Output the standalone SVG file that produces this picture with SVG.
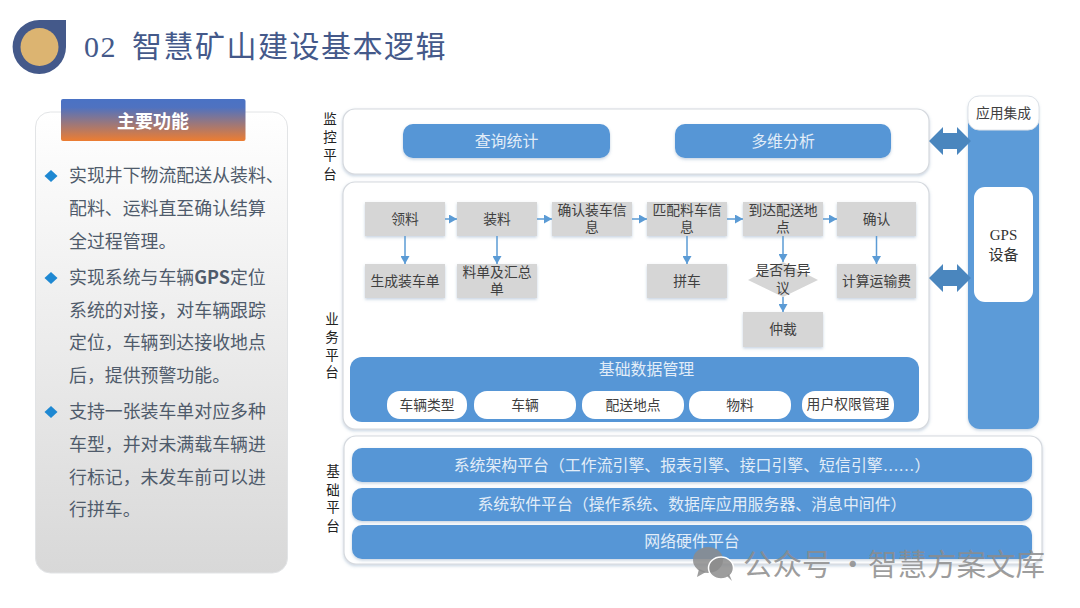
<svg xmlns="http://www.w3.org/2000/svg" width="1080" height="608" viewBox="0 0 1080 608">
<style>
text{font-family:"Liberation Serif","Noto Sans CJK SC",sans-serif}
.sans,.sans text{font-family:"Noto Sans CJK SC","Noto Sans",sans-serif}
.panel{fill:#fff;stroke:#d5d9de;stroke-width:1.2;filter:url(#sh)}
.btn{fill:#5696d6;filter:url(#sh)}
.box{fill:#d6d6d6;filter:url(#sh)}
.pill{fill:#fff}
.w{font-size:15.9px;fill:#e2edf8;text-anchor:middle}
.t{font-size:13.8px;fill:#404040;text-anchor:middle}
.side{font-size:13.5px;fill:#222;text-anchor:middle}
.body{font-size:17.9px;fill:#4f5b6b}
.conn{stroke:#5b9bd5;stroke-width:1.5;fill:none;marker-end:url(#ah)}
.dbl{fill:#4a86be}
.bul{fill:#1e88d2}
</style>
<defs>
<filter id="sh" x="-5%" y="-10%" width="110%" height="125%"><feDropShadow dx="0" dy="1.5" stdDeviation="1.5" flood-color="#5b7fa8" flood-opacity="0.35"/></filter>
<linearGradient id="pg" x1="0" y1="0" x2="0" y2="1"><stop offset="0" stop-color="#fff"/><stop offset="1" stop-color="#d8d8d8"/></linearGradient>
<linearGradient id="hg" x1="0" y1="0" x2="0" y2="1"><stop offset="0" stop-color="#4a72c4"/><stop offset="0.2" stop-color="#4f72c0"/><stop offset="1" stop-color="#ed7d31"/></linearGradient>
<marker id="ah" markerUnits="userSpaceOnUse" markerWidth="9" markerHeight="9" refX="8" refY="4.5" orient="auto"><path d="M0 0L8 4.5L0 9Z" fill="#5b9bd5"/></marker>
</defs>
<rect width="1080" height="608" fill="#fff"/>

<g id="logo">
<path d="M66 20V47A26.700 27 0 1 1 39.500 20Z" fill="#44598a"/>
<circle cx="39.500" cy="47" r="19" fill="#dcb471"/>
</g>
<text id="title" x="84" y="57" font-size="30" letter-spacing="1.5" fill="#44598a">02<tspan x="132">智慧矿山建设基本逻辑</tspan></text>

<g id="functions" class="sans">
<rect x="35.500" y="112" width="252" height="461" rx="15" fill="url(#pg)" stroke="#e2e4e6" stroke-width="1"/>
<rect x="61" y="99" width="184.500" height="42" rx="2" fill="url(#hg)"/>
<text x="153" y="128" font-size="18" font-weight="700" fill="#fff" text-anchor="middle">主要功能</text>
<path class="bul" d="M51 170L57.500 176L51 182L44.500 176Z"/>
<path class="bul" d="M51 272L57.500 278L51 284L44.500 278Z"/>
<path class="bul" d="M51 406L57.500 412L51 418L44.500 412Z"/>
<g class="body">
<text x="69" y="182">实现井下物流配送从装料、</text>
<text x="69" y="215">配料、运料直至确认结算</text>
<text x="69" y="248">全过程管理。</text>
<text x="69" y="284">实现系统与车辆<tspan font-weight="700">GPS</tspan>定位</text>
<text x="69" y="317">系统的对接，对车辆跟踪</text>
<text x="69" y="349">定位，车辆到达接收地点</text>
<text x="69" y="382">后，提供预警功能。</text>
<text x="69" y="418">支持一张装车单对应多种</text>
<text x="69" y="451">车型，并对未满载车辆进</text>
<text x="69" y="484">行标记，未发车前可以进</text>
<text x="69" y="516">行拼车。</text>
</g>
</g>

<g id="side-labels">
<g id="label-monitor" class="side"><text x="330" y="124">监</text><text x="330" y="142">控</text><text x="330" y="160">平</text><text x="330" y="179">台</text></g>
<g id="label-business" class="side"><text x="332" y="324">业</text><text x="332" y="342">务</text><text x="332" y="360">平</text><text x="332" y="377">台</text></g>
<g id="label-base" class="side"><text x="333" y="476">基</text><text x="333" y="495">础</text><text x="333" y="512">平</text><text x="333" y="531">台</text></g>
</g>

<g id="monitor-platform">
<rect class="panel" x="343" y="109" width="586" height="65" rx="12"/>
<g id="query"><rect class="btn" x="403" y="124" width="207" height="34" rx="10"/><text class="w" x="506.500" y="147">查询统计</text></g>
<g id="analysis"><rect class="btn" x="675" y="124" width="216" height="34" rx="10"/><text class="w" x="783" y="147">多维分析</text></g>
</g>

<g id="business-platform"><rect class="panel" x="343" y="182" width="586" height="247" rx="12"/></g>

<g id="base-platform">
<rect class="panel" x="344" y="436" width="698" height="128" rx="12"/>
<g id="arch"><rect class="btn" x="352" y="448" width="680" height="34" rx="10"/><text class="w" x="692" y="471">系统架构平台（工作流引擎、报表引擎、接口引擎、短信引擎……）</text></g>
<g id="soft"><rect class="btn" x="352" y="488" width="680" height="33" rx="10"/><text class="w" x="692" y="510">系统软件平台（操作系统、数据库应用服务器、消息中间件）</text></g>
<g id="net"><rect class="btn" x="352" y="525" width="680" height="34" rx="10"/><text class="w" x="692" y="547">网络硬件平台</text></g>
</g>

<g id="integration">
<rect x="968" y="96" width="71" height="333" rx="12" fill="#5b9bd8" filter="url(#sh)"/>
<g id="app"><rect x="968" y="96" width="71" height="34" rx="11" fill="#fff" stroke="#dfe3e8"/><text class="t" x="1003.500" y="118">应用集成</text></g>
<g id="gps"><rect x="974" y="187" width="59" height="115" rx="11" fill="#fff"/><text x="1003.500" y="240" font-size="15" fill="#333" text-anchor="middle">GPS</text><text x="1003.500" y="260" font-size="15" fill="#333" text-anchor="middle">设备</text></g>
</g>

<g id="n-lingliao"><rect class="box" x="365" y="202" width="80" height="34"/><text class="t" x="405" y="224">领料</text></g>
<g id="n-zhuangliao"><rect class="box" x="457" y="202" width="80" height="34"/><text class="t" x="497" y="224">装料</text></g>
<g id="n-queren-info"><rect class="box" x="552" y="202" width="80" height="34"/><text class="t" x="592" y="215">确认装车信</text><text class="t" x="592" y="232">息</text></g>
<g id="n-pipei"><rect class="box" x="647" y="202" width="80" height="34"/><text class="t" x="687" y="215">匹配料车信</text><text class="t" x="687" y="232">息</text></g>
<g id="n-daoda"><rect class="box" x="743" y="202" width="80" height="34"/><text class="t" x="783" y="215">到达配送地</text><text class="t" x="783" y="232">点</text></g>
<g id="n-queren"><rect class="box" x="837" y="202" width="79" height="34"/><text class="t" x="876.500" y="224">确认</text></g>
<g id="n-shengcheng"><rect class="box" x="365" y="264" width="80" height="34"/><text class="t" x="405" y="286">生成装车单</text></g>
<g id="n-liaodan"><rect class="box" x="457" y="264" width="80" height="34"/><text class="t" x="497" y="277">料单及汇总</text><text class="t" x="497" y="294">单</text></g>
<g id="n-pinche"><rect class="box" x="647" y="264" width="80" height="34"/><text class="t" x="687" y="286">拼车</text></g>
<g id="n-yiyi"><path d="M783 262L818 280L783 297L748 280Z" fill="#d6d6d6"/><text class="t" x="783" y="275">是否有异</text><text class="t" x="783" y="293">议</text></g>
<g id="n-jisuan"><rect class="box" x="837" y="264" width="79" height="34"/><text class="t" x="876.500" y="286">计算运输费</text></g>
<g id="n-zhongcai"><rect class="box" x="743" y="312" width="80" height="35"/><text class="t" x="783" y="334">仲裁</text></g>

<g id="data-management">
<rect x="350" y="357" width="569" height="65" rx="12" fill="#5696d6"/>
<text class="w" x="646.500" y="375">基础数据管理</text>
<g id="p1"><rect class="pill" x="387" y="391" width="80" height="28" rx="13"/><text class="t" x="427" y="410">车辆类型</text></g>
<g id="p2"><rect class="pill" x="474" y="391" width="102" height="28" rx="13"/><text class="t" x="525" y="410">车辆</text></g>
<g id="p3"><rect class="pill" x="582" y="391" width="102" height="28" rx="13"/><text class="t" x="633" y="410">配送地点</text></g>
<g id="p4"><rect class="pill" x="689" y="391" width="102" height="28" rx="13"/><text class="t" x="740" y="410">物料</text></g>
<g id="p5"><rect class="pill" x="802" y="391" width="92" height="28" rx="13"/><text class="t" x="848" y="409">用户权限管理</text></g>
</g>

<g id="connectors">
<path class="conn" d="M445 219H457"/>
<path class="conn" d="M537 219H552"/>
<path class="conn" d="M632 219H647"/>
<path class="conn" d="M727 219H743"/>
<path class="conn" d="M823 219H837"/>
<path class="conn" d="M405 236V264"/>
<path class="conn" d="M497 236V264"/>
<path class="conn" d="M687 236V264"/>
<path class="conn" d="M783 236V262"/>
<path class="conn" d="M876.500 236V264"/>
<path class="conn" d="M783 297V312"/>
<path class="dbl" d="M929 141L943 127V133H957V127L971 141L957 155V149H943V155Z"/>
<path class="dbl" d="M929 278L943 264V270H957V264L971 278L957 292V286H943V292Z"/>
</g>

<g id="watermark" fill="#8c8c8c" fill-opacity="0.85">
<ellipse cx="708" cy="560" rx="15" ry="13"/>
<path d="M699 569L697 577L706 572Z"/>
<ellipse cx="721" cy="568" rx="12.500" ry="11" stroke="#fff" stroke-width="1.500"/>
<path d="M727 576L732 581L729 574Z"/>
<text class="sans" x="743" y="575" font-size="29.500">公众号<tspan x="838">·</tspan><tspan x="868">智慧方案文库</tspan></text>
</g>
</svg>
